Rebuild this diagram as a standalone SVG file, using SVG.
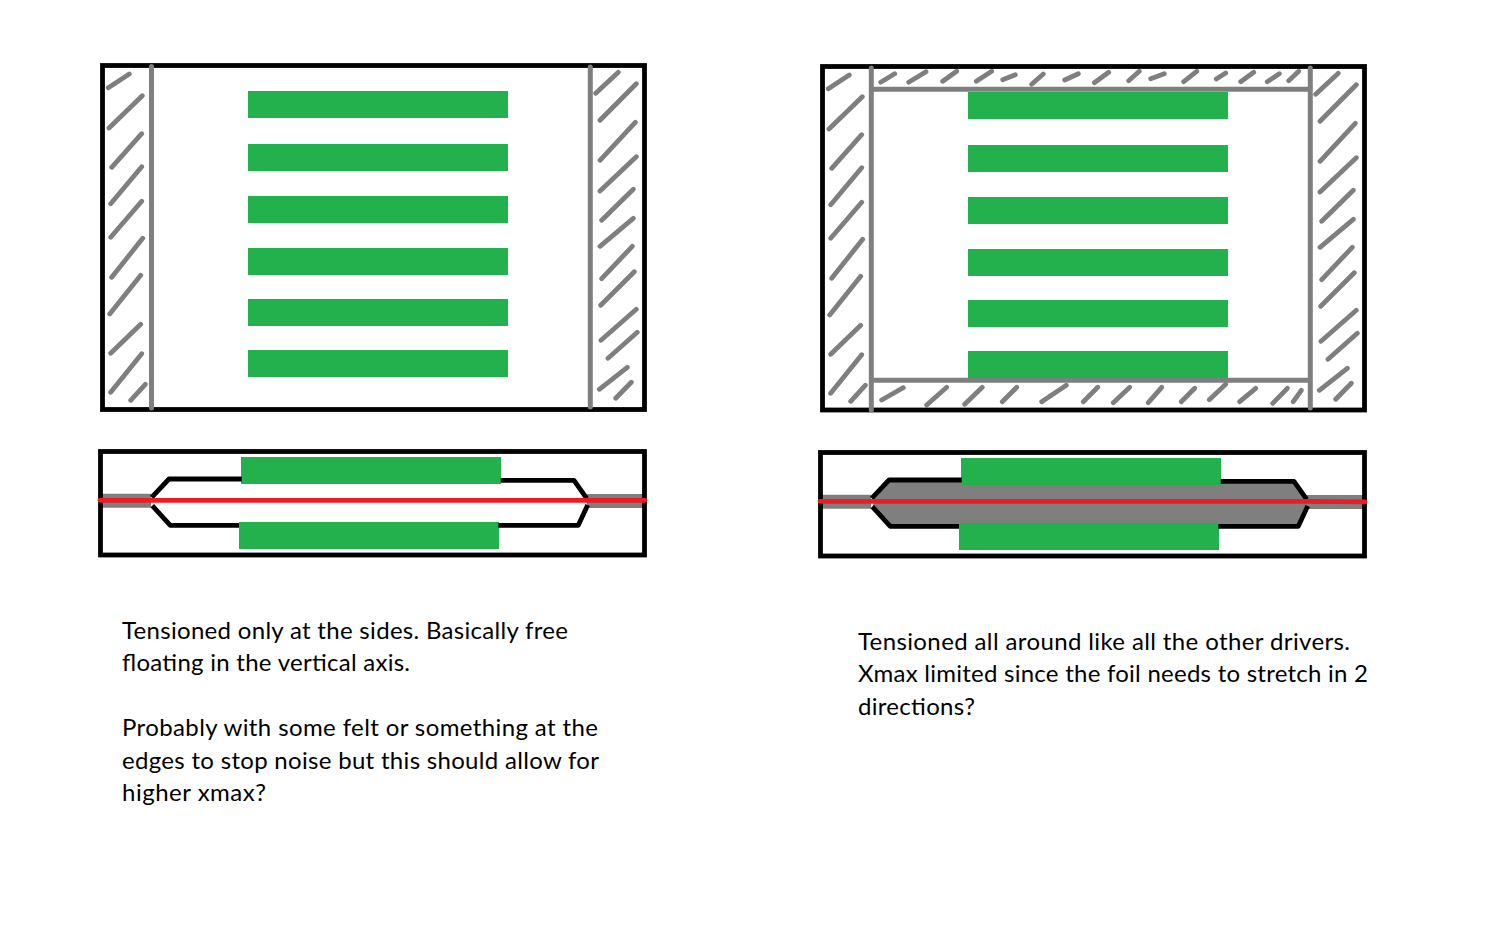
<svg xmlns="http://www.w3.org/2000/svg" width="1506" height="929" viewBox="0 0 1506 929">
<style>
.frame{fill:none;stroke:#000;stroke-width:4.8}
.green{fill:#22b14c}
.hatch{fill:none;stroke:#7f7f7f;stroke-width:4.8;stroke-linecap:round}
.wall{fill:none;stroke:#7f7f7f;stroke-width:5;stroke-linecap:round}
.edge{fill:none;stroke:#7f7f7f;stroke-width:14}
.foil{fill:none;stroke:#000;stroke-width:4.8;stroke-linejoin:round}
.red{fill:none;stroke:#ed1c24;stroke-width:4.8;stroke-linecap:round}
text{font-family:"Lato","Carlito","Liberation Sans",sans-serif;font-size:24px;fill:#000}
</style>
<defs>
<path id="hl" class="hatch" d="M108.3 87.7L129.3 74M109 128L142.3 95.7M111.7 167.3L141.7 133.7M110.7 203.7L141.7 166.7M110.7 237.3L141.7 201.3M111.7 277.3L142.7 238.3M109.7 314L140.7 275.3M110.7 353.3L140.7 324.3M110.7 392.3L141.7 353.7M130.7 400.3L145.3 384.3"/>
<path id="hr" class="hatch" d="M595.7 93.3L618.3 72.3M600 120.3L636.3 83.7M600 160.3L635.3 122.3M600 191L636.3 156.7M601.7 220.3L633.3 189.3M600 246.3L633.3 218.3M601.7 278.7L632.3 246.3M600.7 305.3L634.3 271.7M601 340.3L636.3 309.3M608 358.3L637.3 332.3M599.3 389.3L627.3 367.3M615.7 398.3L631.3 382.3"/>
<g id="bars">
<rect class="green" x="248" y="91" width="260" height="27"/>
<rect class="green" x="248" y="144" width="260" height="27"/>
<rect class="green" x="248" y="196" width="260" height="27"/>
<rect class="green" x="248" y="248" width="260" height="27"/>
<rect class="green" x="248" y="299" width="260" height="27"/>
<rect class="green" x="248" y="350" width="260" height="27"/>
</g>
</defs>

<g id="top-left">
<use href="#bars"/>
<use href="#hl"/>
<use href="#hr"/>
<rect class="frame" x="102.5" y="65.5" width="542" height="344"/>
<path class="wall" d="M151.5 66.5V408M590.3 67V407"/>
</g>

<g id="top-right">
<use href="#bars" transform="translate(720 1)"/>
<use href="#hl" transform="translate(720 1)"/>
<use href="#hr" transform="translate(720 1)"/>
<path class="hatch" d="M880.7 82.3L894.7 73.7M908.7 82.3L926 71.7M942.7 81.3L956.7 71.3M976.3 81.3L991.7 71.3M1002.7 79.7L1015.3 74.7M1031.7 84.3L1043.3 74M1064.7 80L1078.3 73.7M1094.3 82.7L1108.7 72.3M1128.7 80.7L1139.3 71.3M1150.7 78.7L1164.3 73.7M1183.7 81.7L1196.7 71.3M1216.3 79L1225.7 73M1240.7 81.7L1253.7 72.3M1267.3 81.7L1279.3 73.7M1288.7 80.7L1298.7 71.3"/>
<path class="hatch" d="M881.7 400L903.3 387.7M926.7 405L946.7 387.3M964.7 404.3L982.3 387.3M1002.3 401.7L1016.7 387.3M1041.7 401.7L1066.3 385.3M1083.3 401.7L1097.7 387.3M1113.3 402.7L1129.7 387.3M1148.3 402.7L1161.7 387.3M1181.3 401.7L1194.7 388.3M1209.3 399.7L1225.7 384.3M1239.7 401.7L1255.7 388.3M1272.7 403.3L1287.3 388.3M1293.3 401.7L1301.3 390.3"/>
<rect class="frame" x="822.5" y="66.5" width="542" height="343.5"/>
<path class="wall" d="M871.3 68V410M1310.3 68V408M871.3 89.3H1310.3M871.3 380.3H1310.3"/>
</g>

<g id="section-left">
<rect class="green" x="241" y="457" width="260" height="27"/>
<rect class="green" x="239" y="522" width="260" height="27"/>
<path class="edge" d="M101 500.7H151M587 501H643"/>
<path class="foil" d="M151.7 497.3L169 479H241.7M500.7 480.3H574L586.7 498.3M152.3 505.7L170.3 525.3H239M498.3 525.3H578.3L587.7 505"/>
<rect class="frame" x="100.5" y="451.5" width="544" height="103.5"/>
<path class="red" d="M100 500.3H645"/>
</g>

<g id="section-right">
<path d="M874 498L889 481H1295L1307 499L1307 507L1298 526H890L873 507Z" fill="#7f7f7f"/>
<rect class="green" x="961" y="458" width="260" height="27"/>
<rect class="green" x="959" y="523" width="260" height="27"/>
<path class="edge" d="M821 501.7H871M1307 502H1363"/>
<path class="foil" d="M871.7 498.3L889 480H961.7M1220.7 481.3H1294L1306.7 499.3M872.3 506.7L890.3 526.3H959M1218.3 526.3H1298.3L1307.7 506"/>
<rect class="frame" x="820.5" y="452.5" width="544" height="103.5"/>
<path class="red" d="M820 501.3H1100H1306L1365 501.8"/>
</g>

<g id="notes">
<text x="122" y="639" textLength="446">Tensioned only at the sides. Basically free</text>
<text x="122" y="671" textLength="288">floating in the vertical axis.</text>
<text x="122" y="735.5" textLength="476">Probably with some felt or something at the</text>
<text x="122" y="768.5" textLength="477">edges to stop noise but this should allow for</text>
<text x="122" y="800.5" textLength="144">higher xmax?</text>
<text x="858" y="650" textLength="492">Tensioned all around like all the other drivers.</text>
<text x="858" y="682" textLength="510">Xmax limited since the foil needs to stretch in 2</text>
<text x="858" y="715" textLength="117">directions?</text>
</g>
</svg>
